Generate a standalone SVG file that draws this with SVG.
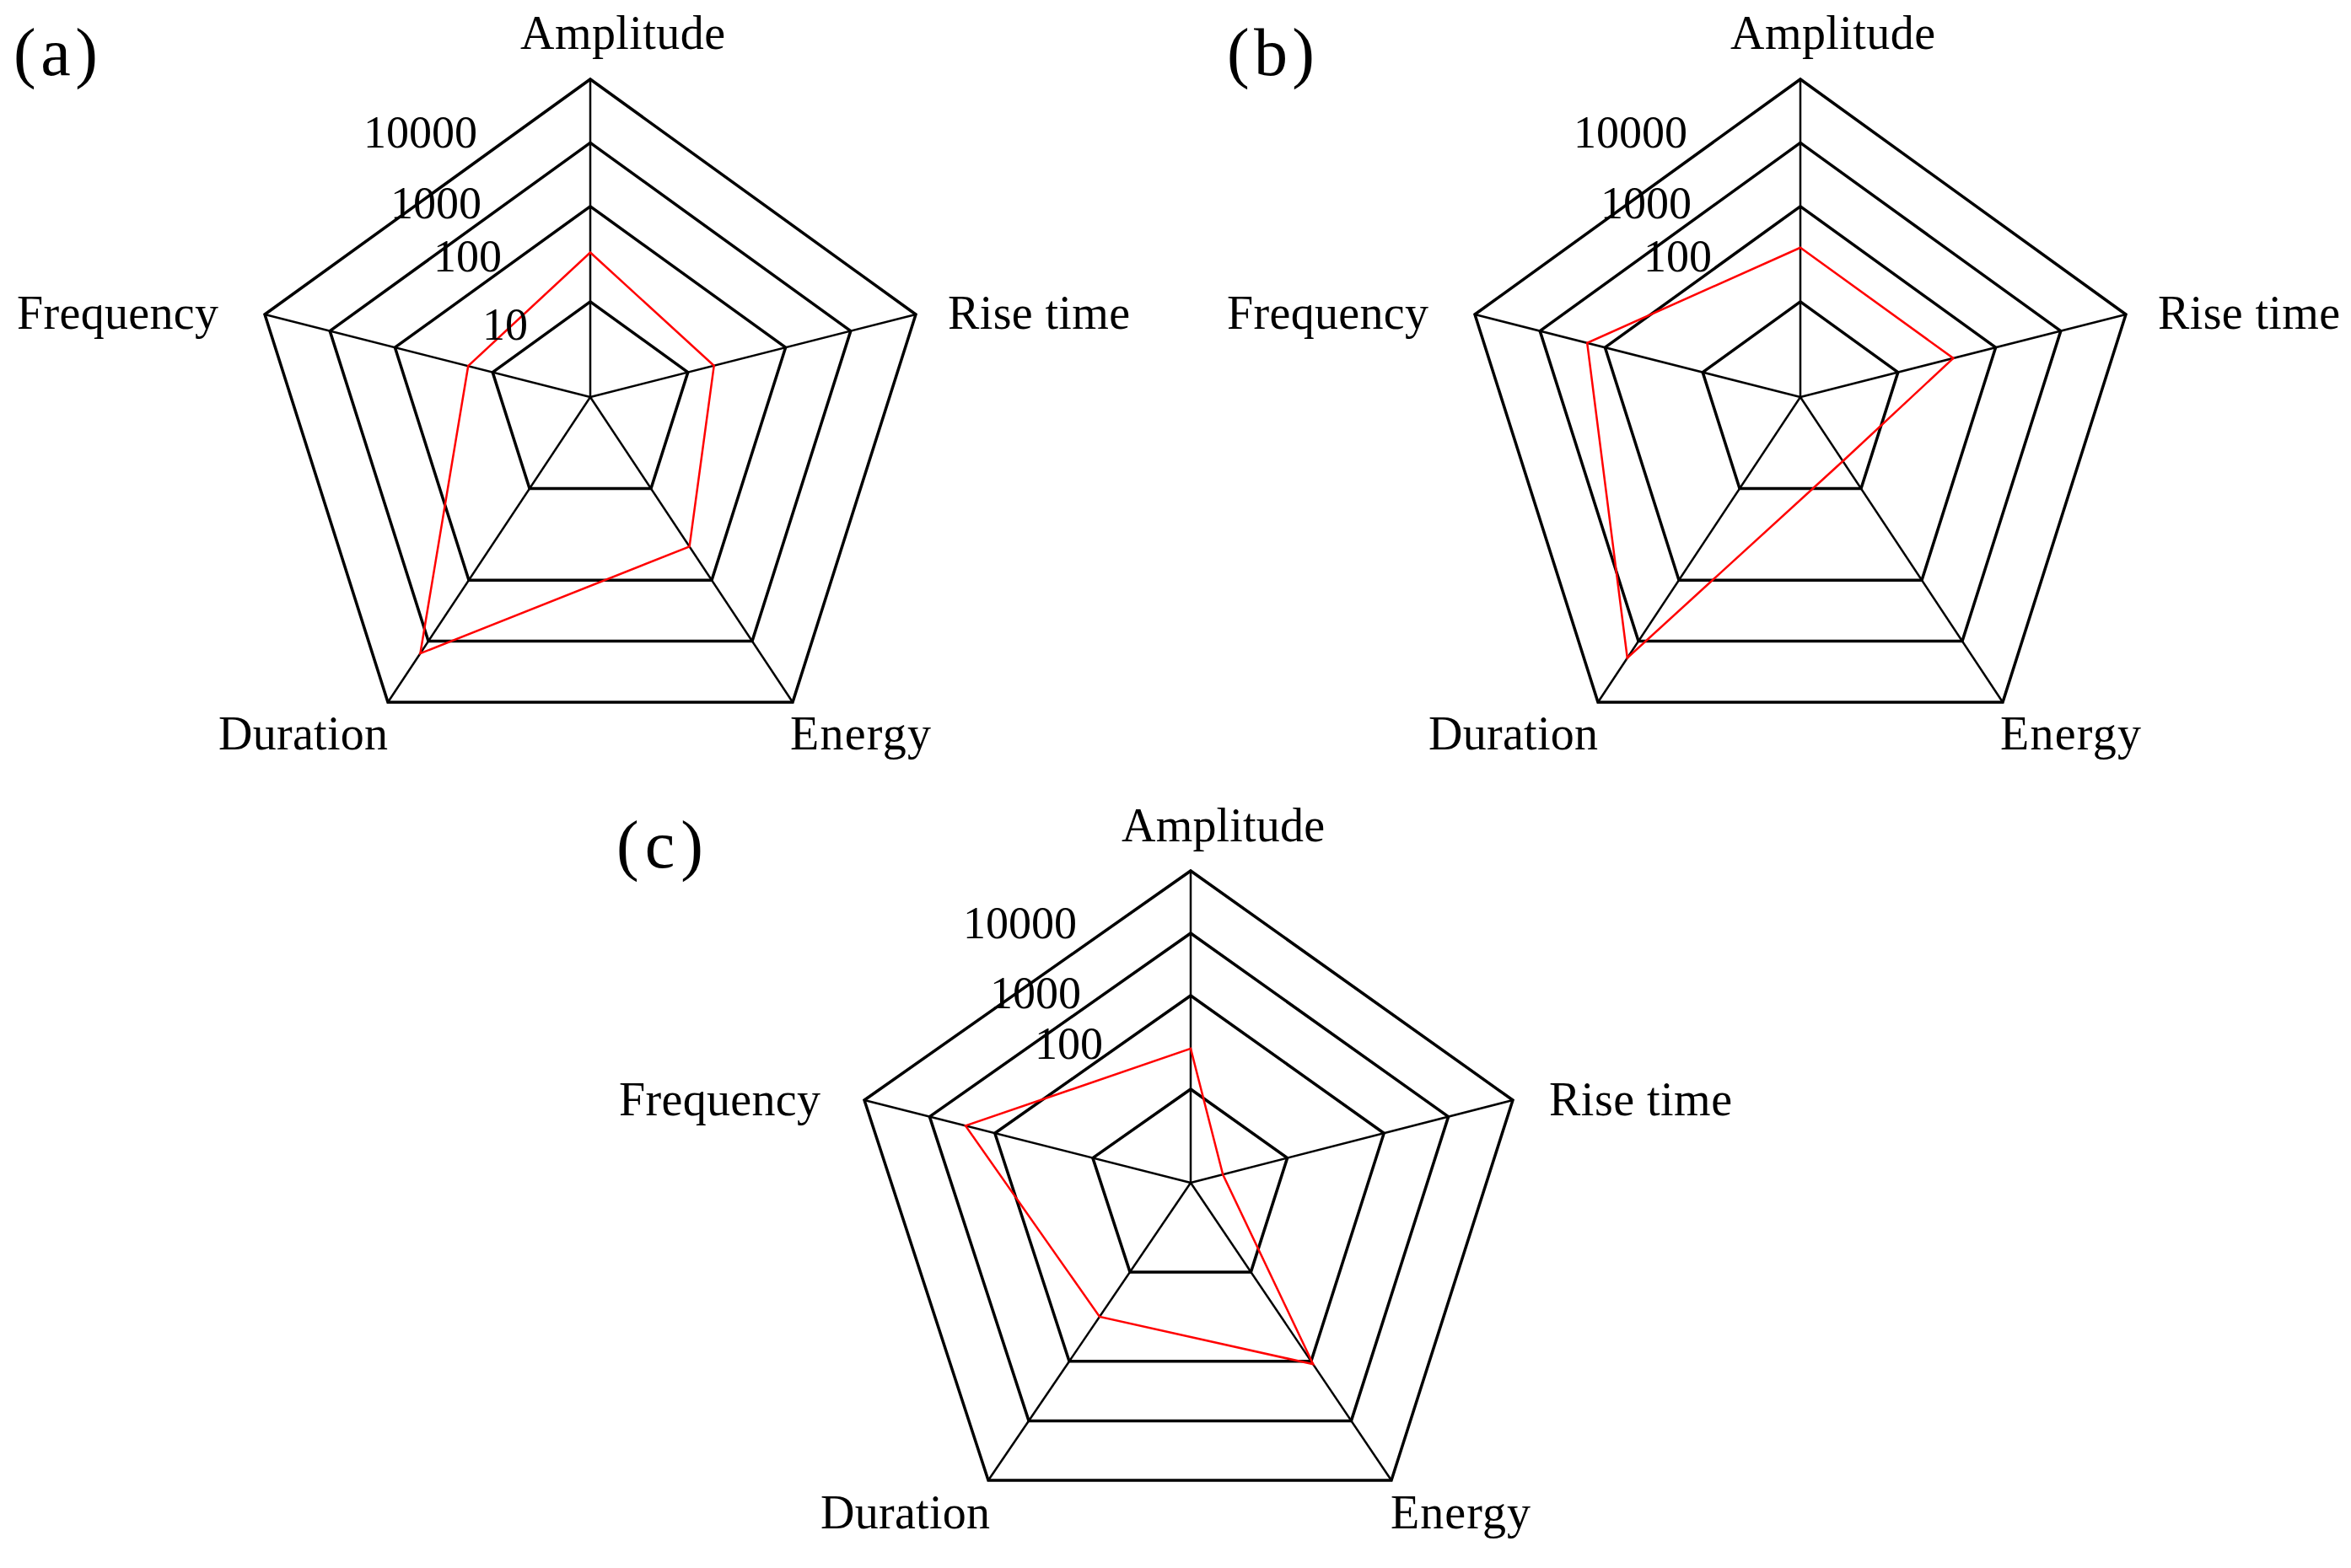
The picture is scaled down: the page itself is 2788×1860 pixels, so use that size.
<svg xmlns="http://www.w3.org/2000/svg" width="2788" height="1860" viewBox="0 0 2788 1860">
<style>
text{font-family:"Liberation Serif","Times New Roman",serif;fill:#000}
.lab{font-size:56px}
.tick{font-size:54px}
.pl{font-size:80px}
.ring{fill:none;stroke:#000;stroke-width:3.5;stroke-linejoin:miter}
.ax{stroke:#000;stroke-width:2.5}
.red{fill:none;stroke:#f00;stroke-width:2.5}
</style>
<defs>
<g id="gridAB">
<polygon class="ring" points="0,-377 386,-98 240,362 -240,362 -386,-98"/>
<polygon class="ring" points="0,-301.6 308.8,-78.4 192,289.6 -192,289.6 -308.8,-78.4"/>
<polygon class="ring" points="0,-226.2 231.6,-58.8 144,217.2 -144,217.2 -231.6,-58.8"/>
<polygon class="ring" points="0,-113.1 115.8,-29.4 72,108.6 -72,108.6 -115.8,-29.4"/>
<g class="ax"><line x1="0" y1="0" x2="0" y2="-377"/><line x1="0" y1="0" x2="386" y2="-98"/><line x1="0" y1="0" x2="240" y2="362"/><line x1="0" y1="0" x2="-240" y2="362"/><line x1="0" y1="0" x2="-386" y2="-98"/></g>
</g>
</defs>
<rect width="2788" height="1860" fill="#fff"/>
<g id="chart-a" transform="translate(700,471)">
<use href="#gridAB"/>
<polygon class="red" points="0,-171.5 146.7,-37.2 117.6,177.4 -201.6,304.1 -144.8,-36.8"/>
</g>
<g id="chart-b" transform="translate(2135,471)">
<use href="#gridAB"/>
<polygon class="red" points="0,-177.2 181.4,-46.1 50.4,76 -205.2,309.5 -252.8,-64.2"/>
</g>
<g id="chart-c" transform="translate(1412,1403)">
<polygon class="ring" points="0,-370 382,-98 238,353 -240,353 -387,-98"/>
<polygon class="ring" points="0,-296 305.6,-78.4 190.4,282.4 -192,282.4 -309.6,-78.4"/>
<polygon class="ring" points="0,-222 229.2,-58.8 142.8,211.8 -144,211.8 -232.2,-58.8"/>
<polygon class="ring" points="0,-111 114.6,-29.4 71.4,105.9 -72,105.9 -116.1,-29.4"/>
<g class="ax"><line x1="0" y1="0" x2="0" y2="-370"/><line x1="0" y1="0" x2="382" y2="-98"/><line x1="0" y1="0" x2="238" y2="353"/><line x1="0" y1="0" x2="-240" y2="353"/><line x1="0" y1="0" x2="-387" y2="-98"/></g>
<polygon class="red" points="0,-159.1 38.2,-9.8 145.2,215.3 -108,158.9 -267,-67.6"/>
</g>
<g id="labels-a">
<text class="pl" x="16" y="89" textLength="100">(a)</text>
<text class="lab" x="617" y="58" textLength="243">Amplitude</text>
<text class="lab" x="1124" y="390" textLength="216">Rise time</text>
<text class="lab" x="20" y="390" textLength="239">Frequency</text>
<text class="lab" x="259" y="889" textLength="201">Duration</text>
<text class="lab" x="937" y="889" textLength="167">Energy</text>
<text class="tick" x="431" y="175">10000</text>
<text class="tick" x="463" y="259">1000</text>
<text class="tick" x="514" y="322">100</text>
<text class="tick" x="572" y="403">10</text>
</g>
<g id="labels-b">
<text class="pl" x="1455" y="89" textLength="104">(b)</text>
<text class="lab" x="2052" y="58" textLength="243">Amplitude</text>
<text class="lab" x="2559" y="390" textLength="216">Rise time</text>
<text class="lab" x="1455" y="390" textLength="239">Frequency</text>
<text class="lab" x="1694" y="889" textLength="201">Duration</text>
<text class="lab" x="2372" y="889" textLength="167">Energy</text>
<text class="tick" x="1866" y="175">10000</text>
<text class="tick" x="1898" y="259">1000</text>
<text class="tick" x="1949" y="322">100</text>
</g>
<g id="labels-c">
<text class="pl" x="731" y="1029" textLength="103">(c)</text>
<text class="lab" x="1330" y="998" textLength="241">Amplitude</text>
<text class="lab" x="1837" y="1323" textLength="217">Rise time</text>
<text class="lab" x="734" y="1323" textLength="239">Frequency</text>
<text class="lab" x="973" y="1813" textLength="201">Duration</text>
<text class="lab" x="1649" y="1813" textLength="166">Energy</text>
<text class="tick" x="1142" y="1113">10000</text>
<text class="tick" x="1174" y="1196">1000</text>
<text class="tick" x="1227" y="1256">100</text>
</g>
</svg>
